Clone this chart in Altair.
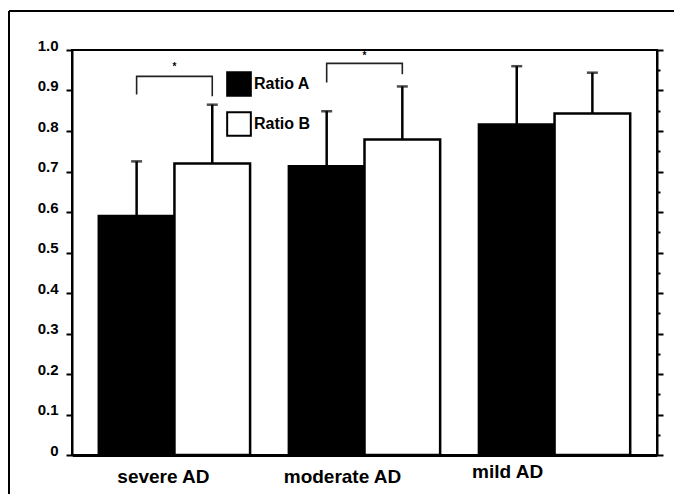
import altair as alt
import pandas as pd

# ---- data ----
groups = ["severe AD", "moderate AD", "mild AD"]
series = ["Ratio A", "Ratio B"]
ratio_a = [0.59, 0.713, 0.816]
ratio_b = [0.72, 0.779, 0.843]
upper_a = [0.725, 0.849, 0.96]    # top of error bar
upper_b = [0.865, 0.91, 0.944]

bracket_groups = ["severe AD", "moderate AD"]
bracket_top = [0.935, 0.967]
bracket_left_end = [0.89, 0.92]
bracket_right_end = [0.886, 0.94]
star_y = [0.958, 0.985]
star_text = ["*", "*"]

y_tick_values = [round(i * 0.05, 2) for i in range(21)]

rows = []
for g, a, b, ea, eb in zip(groups, ratio_a, ratio_b, upper_a, upper_b):
    rows.append({"group": g, "series": "Ratio A", "value": a, "upper": ea})
    rows.append({"group": g, "series": "Ratio B", "value": b, "upper": eb})
df = pd.DataFrame(rows)

brows = []
for i, (g, top, l, r) in enumerate(zip(bracket_groups, bracket_top, bracket_left_end, bracket_right_end)):
    brows += [
        {"bracket": i, "order": 0, "group": g, "series": "Ratio A", "y": l},
        {"bracket": i, "order": 1, "group": g, "series": "Ratio A", "y": top},
        {"bracket": i, "order": 2, "group": g, "series": "Ratio B", "y": top},
        {"bracket": i, "order": 3, "group": g, "series": "Ratio B", "y": r},
    ]
bdf = pd.DataFrame(brows)
sdf = pd.DataFrame({"group": bracket_groups, "y": star_y, "t": star_text})

FONT = "Liberation Sans"

xscale = alt.Scale(domain=groups, paddingInner=0.204, paddingOuter=0.141)
xoff = alt.Scale(domain=series, paddingInner=0, paddingOuter=0)
yscale = alt.Scale(domain=[0, 1], nice=False, zero=True)

major_test = "round(datum.value*100) % 10 == 0"

x_enc = alt.X("group:N", scale=xscale, sort=groups, title=None,
              axis=alt.Axis(ticks=False, labelAngle=0, labelFont=FONT, labelFontSize=19,
                            labelFontWeight="bold", labelColor="black",
                            labelPadding={"condition": {"test": "datum.value == 'mild AD'", "value": 7}, "value": 12},
                            labelOffset={"condition": [
                                {"test": "datum.value == 'severe AD'", "value": -11},
                                {"test": "datum.value == 'moderate AD'", "value": -22}],
                                "value": -47},
                            domainWidth=3, domainColor="black"))
xo_enc = alt.XOffset("series:N", scale=xoff, sort=series)

left_axis = alt.Axis(values=y_tick_values,
                     labelExpr="(" + major_test + ") ? (datum.value == 0 ? '0' : format(datum.value, '.1f')) : ''",
                     tickSize={"condition": {"test": major_test, "value": 6}, "value": 3},
                     tickWidth=2, tickColor="black", domainWidth=2, domainColor="black",
                     labelFont=FONT, labelFontSize=15, labelFontWeight="bold", labelColor="black",
                     labelPadding=8, labelOffset=-5, grid=False)

frame_df = pd.DataFrame({"d": [0]})
frame_top = alt.Chart(frame_df).mark_rule(color="black", strokeWidth=2).encode(
    x=alt.value(-63), x2=alt.value(900), y=alt.value(-39))
frame_left = alt.Chart(frame_df).mark_rule(color="black", strokeWidth=2).encode(
    x=alt.value(-63), y=alt.value(-39), y2=alt.value(900))

bars = alt.Chart(df).mark_bar(stroke="black", strokeWidth=2.5).encode(
    x=x_enc, xOffset=xo_enc,
    y=alt.Y("value:Q", scale=yscale, axis=left_axis, title=None),
    fill=alt.Fill("series:N", scale=alt.Scale(domain=series, range=["black", "white"]),
                  legend=alt.Legend(orient="none", legendX=154, legendY=21, title=None,
                                    symbolType="square", symbolSize=560, symbolStrokeColor="black",
                                    symbolStrokeWidth=2, symbolOpacity=1,
                                    labelFont=FONT, labelFontSize=16, labelFontWeight="bold",
                                    labelColor="black", labelOffset=2, rowPadding=8, padding=0)),
)

err = alt.Chart(df).mark_rule(color="black", strokeWidth=2.5).encode(
    x=x_enc, xOffset=xo_enc,
    y=alt.Y("value:Q", scale=yscale), y2="upper:Q")

caps = alt.Chart(df).mark_tick(color="black", thickness=2.5, size=11).encode(
    x=x_enc, xOffset=xo_enc, y=alt.Y("upper:Q", scale=yscale))

brackets = alt.Chart(bdf).mark_line(color="#222", strokeWidth=1.6).encode(
    x=x_enc, xOffset=xo_enc, y=alt.Y("y:Q", scale=yscale),
    order="order:Q", detail="bracket:N")

stars = alt.Chart(sdf).mark_text(font=FONT, fontSize=10, fontWeight="bold", color="black",
                                 baseline="middle").encode(
    x=x_enc, y=alt.Y("y:Q", scale=yscale), text="t:N")

main = alt.layer(frame_top, frame_left, bars, err, caps, brackets, stars)

right = alt.Chart(df).mark_bar(opacity=0).encode(
    x=x_enc, xOffset=xo_enc,
    y=alt.Y("value:Q", scale=alt.Scale(domain=[0, 1], nice=False, zero=True), title=None,
            axis=alt.Axis(orient="right", values=y_tick_values, labels=False,
                          tickSize={"condition": {"test": major_test, "value": 6}, "value": 3},
                          tickWidth=2, tickColor="black", domainWidth=2, domainColor="black",
                          grid=False)))

chart = alt.layer(main, right).resolve_scale(y="independent").properties(
    width=585, height=405,
    autosize=alt.AutoSizeParams(type="none"),
    padding={"left": 64, "top": 42, "right": 17, "bottom": 39},
    background="white",
).configure_view(stroke="black", strokeWidth=2)

chart.save("out.html", embed_options={"renderer": "svg", "actions": False})
